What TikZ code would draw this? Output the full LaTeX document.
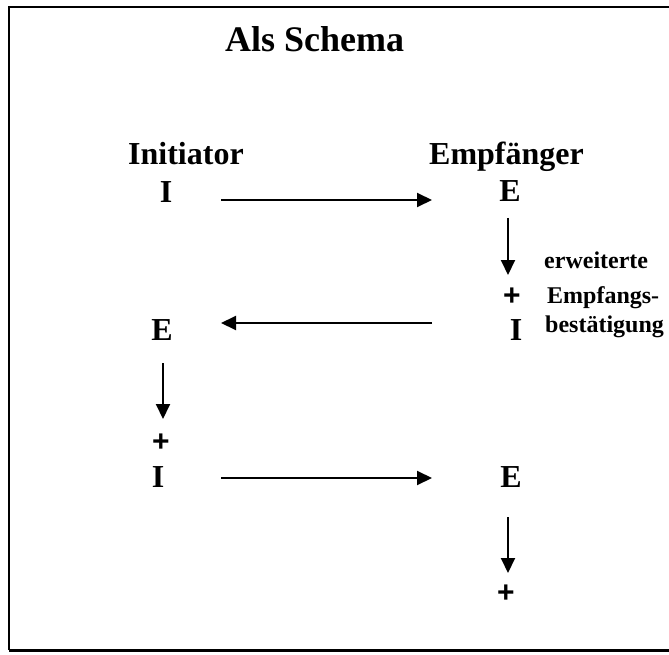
\documentclass[tikz,border=0pt]{standalone}
\usepackage{fontspec}
\setmainfont{Liberation Serif}
\newfontfamily\plusfont{Liberation Sans}
\usetikzlibrary{arrows.meta, positioning, calc}

\begin{document}
\begin{tikzpicture}[x=1pt, y=-1pt,
  ttl/.style   = {inner sep=0pt, font=\fontsize{36}{40}\selectfont\bfseries},
  big/.style   = {inner sep=0pt, font=\fontsize{32}{36}\selectfont\bfseries},
  small/.style = {inner sep=0pt, font=\fontsize{24}{28}\selectfont\bfseries},
  plus/.style  = {inner sep=0pt, font=\fontsize{30}{32}\selectfont\plusfont\bfseries},
  arr/.style   = {-{Triangle[length=15pt, width=14pt]}, line width=2pt},
]
\useasboundingbox (0,0) rectangle (669,655);
% ── Frame (open to the right) ────────────────────────────────────────────────
\draw[line width=2.5pt] (672,7) -- (9,7) -- (9,650);
\draw[line width=3pt] (9,650) -- (672,650);

% ── Heading and roles ────────────────────────────────────────────────────────
\node[ttl, anchor=base west] (title) at (225,52)  {Als Schema};
\node[big, anchor=base west] (init)  at (128,165) {Initiator};
\node[big, anchor=base west] (empf)  at (429,165) {Empfänger};

% ── Letters and plus signs ───────────────────────────────────────────────────
\node[big, anchor=base] (i1) at (166,203) {I};
\node[big, anchor=base] (e1) at (510,202) {E};
\node[plus]             (p1) at (512,297) {+};
\node[big, anchor=base] (i2) at (516,340) {I};
\node[big, anchor=base] (e2) at (162,340) {E};
\node[plus]             (p2) at (161,443) {+};
\node[big, anchor=base] (i3) at (158,487) {I};
\node[big, anchor=base] (e3) at (511,487) {E};
\node[plus]             (p3) at (506,594) {+};

% ── Side note ────────────────────────────────────────────────────────────────
\node[small, anchor=base west] (erw)  at (544,268) {erweiterte};
\node[small, anchor=base west] (empfb) at (547,303) {Empfangs-};
\node[small, anchor=base west] (best) at (545,332) {bestätigung};

% ── Arrows ───────────────────────────────────────────────────────────────────
\coordinate (h1s) at (221,200); \coordinate (h1e) at (432,200);
\coordinate (h2s) at (432,323); \coordinate (h2e) at (221,323);
\coordinate (h3s) at (221,478); \coordinate (h3e) at (432,478);
\coordinate (v1s) at (508,218); \coordinate (v1e) at (508,275);
\coordinate (v2s) at (163,363); \coordinate (v2e) at (163,419);
\coordinate (v3s) at (508,517); \coordinate (v3e) at (508,573);

\foreach \a/\b in {h1s/h1e, h2s/h2e, h3s/h3e, v1s/v1e, v2s/v2e, v3s/v3e}
  \draw[arr] (\a) -- (\b);
\end{tikzpicture}
\end{document}
